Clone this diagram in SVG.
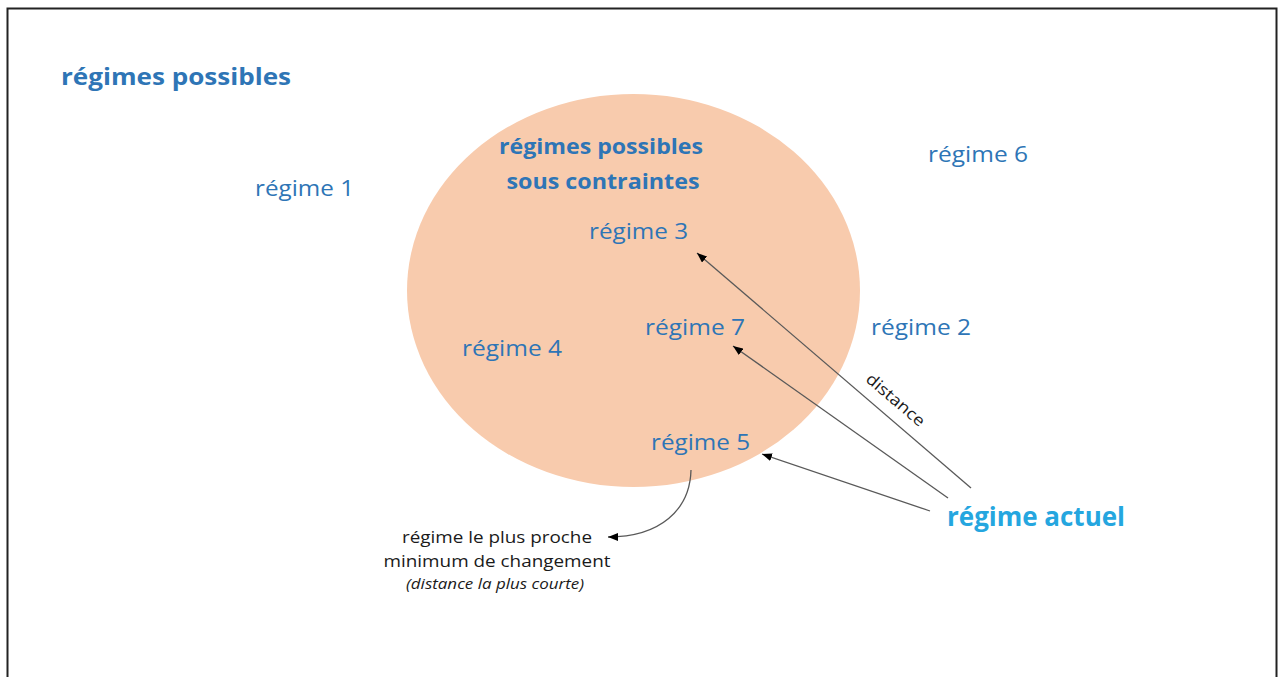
<svg xmlns="http://www.w3.org/2000/svg" width="1280" height="677" viewBox="0 0 1280 677">
<defs>
<marker id="ah" viewBox="0 0 10 8" refX="10" refY="4" markerWidth="10" markerHeight="8" markerUnits="userSpaceOnUse" orient="auto">
<path d="M0,0 L10,4 L0,8 Z" fill="#000"/>
</marker>
<style>
.b{font-family:"Open Sans","Noto Sans",sans-serif;fill:#2E75B6;}
.bb{font-family:"Open Sans","Noto Sans",sans-serif;fill:#2E75B6;font-weight:bold;}
.k{font-family:"Open Sans","Noto Sans",sans-serif;fill:#1a1a1a;}
.c{fill:none;stroke:#595959;stroke-width:1.3;marker-end:url(#ah);}
</style>
</defs>
<rect x="0" y="0" width="1280" height="677" fill="#fff"/>
<rect x="7.5" y="8.5" width="1269" height="700" fill="none" stroke="#222" stroke-width="2"/>
<g id="title"><text class="bb" x="61" y="85" font-size="24" textLength="230" lengthAdjust="spacingAndGlyphs">régimes possibles</text></g>
<g id="constraint-set">
<ellipse cx="633.5" cy="290.5" rx="226.5" ry="196.5" fill="#F8CBAD"/>
<text class="bb" x="601" y="154" font-size="22" text-anchor="middle" textLength="204" lengthAdjust="spacingAndGlyphs">régimes possibles</text>
<text class="bb" x="603" y="189" font-size="22" text-anchor="middle" textLength="193" lengthAdjust="spacingAndGlyphs">sous contraintes</text>
</g>
<g id="regime1"><text class="b" x="255" y="196" font-size="22" textLength="99" lengthAdjust="spacingAndGlyphs">régime 1</text></g>
<g id="regime6"><text class="b" x="928" y="162" font-size="22" textLength="100" lengthAdjust="spacingAndGlyphs">régime 6</text></g>
<g id="regime3"><text class="b" x="589" y="239" font-size="22" textLength="99" lengthAdjust="spacingAndGlyphs">régime 3</text></g>
<g id="regime7"><text class="b" x="645" y="335" font-size="22" textLength="100" lengthAdjust="spacingAndGlyphs">régime 7</text></g>
<g id="regime2"><text class="b" x="871" y="335" font-size="22" textLength="100" lengthAdjust="spacingAndGlyphs">régime 2</text></g>
<g id="regime4"><text class="b" x="462" y="356" font-size="22" textLength="100" lengthAdjust="spacingAndGlyphs">régime 4</text></g>
<g id="regime5"><text class="b" x="651" y="450" font-size="22" textLength="99" lengthAdjust="spacingAndGlyphs">régime 5</text></g>
<g id="regime-actuel"><text x="947" y="526" font-size="27" font-weight="bold" font-family="Open Sans, Noto Sans, sans-serif" fill="#25A6DF" textLength="178" lengthAdjust="spacingAndGlyphs">régime actuel</text></g>
<g id="closest-note">
<text class="k" x="497" y="543" font-size="16.5" text-anchor="middle" textLength="190" lengthAdjust="spacingAndGlyphs">régime le plus proche</text>
<text class="k" x="497" y="567" font-size="16.5" text-anchor="middle" textLength="227" lengthAdjust="spacingAndGlyphs">minimum de changement</text>
<text class="k" x="495" y="589" font-size="14.5" font-style="italic" text-anchor="middle" textLength="178" lengthAdjust="spacingAndGlyphs">(distance la plus courte)</text>
</g>
<g id="connectors">
<path class="c" d="M971,488 L697,253"/>
<path class="c" d="M948,498 L733,346"/>
<path class="c" d="M930,511 L762,454"/>
<path class="c" d="M691,470 C690,510 660,537 608,537"/>
<text class="k" transform="translate(892,404) rotate(40.6)" font-size="16" text-anchor="middle" textLength="72" lengthAdjust="spacingAndGlyphs">distance</text>
</g>
</svg>
